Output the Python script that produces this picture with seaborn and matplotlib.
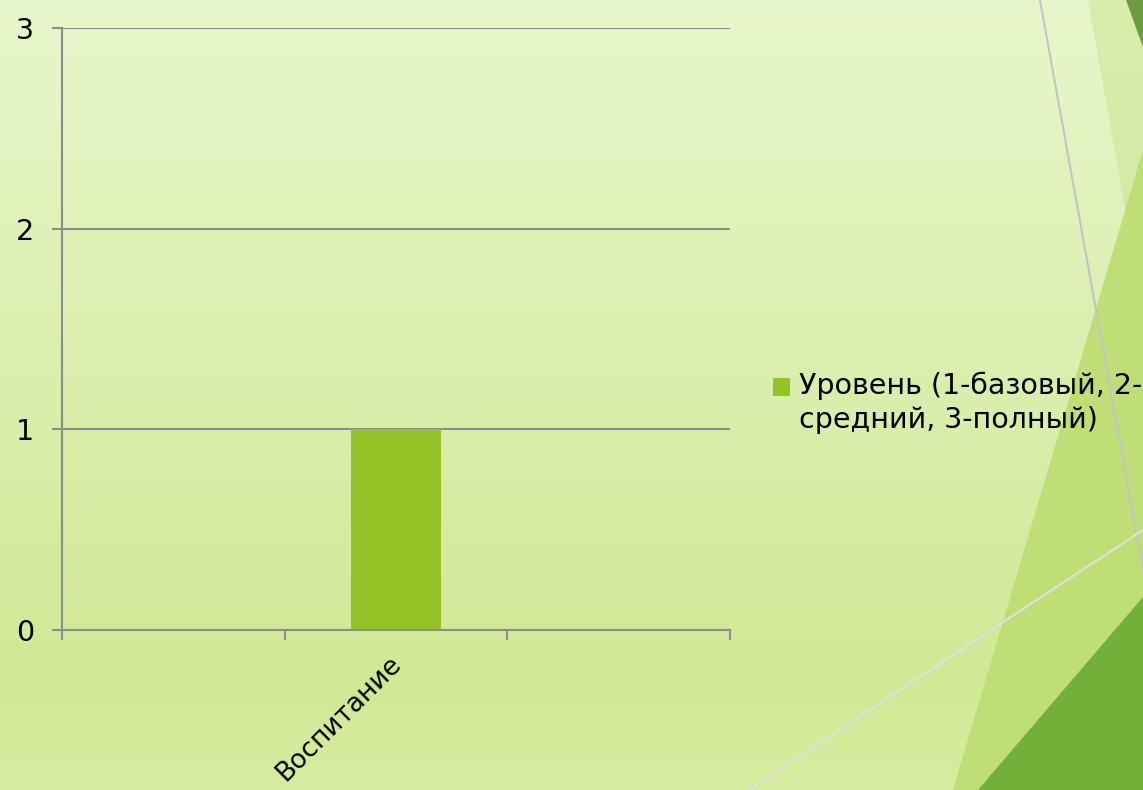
import numpy as np
import pandas as pd
import matplotlib.pyplot as plt
import matplotlib.ticker as mticker
from matplotlib.patches import Polygon
from matplotlib.lines import Line2D
from matplotlib.transforms import ScaledTranslation
import seaborn as sns

# data
categories = ["Воспитание"]
values = [1]
series_name = "Уровень (1-базовый, 2-\nсредний, 3-полный)"
y_ticks = [0, 1, 2, 3]

W, H = 1143, 790
bar_color = "#93c327"
grid_color = "#8c8c8c"
fs = 20.5

sns.set_theme(style="white")
plt.rcParams["font.family"] = ["DejaVu Sans"]
plt.rcParams["text.color"] = "black"

fig = plt.figure(figsize=(W / 100, H / 100), dpi=100)

# background: vertical gradient plus the decorative shapes on the right
bg = fig.add_axes([0, 0, 1, 1], zorder=0)
bg.set_xlim(0, W)
bg.set_ylim(H, 0)
bg.axis("off")
stops_y = [0, 680, H]
stops_c = np.array([[0xe8, 0xf6, 0xcb], [0xd0, 0xe9, 0x95], [0xd6, 0xed, 0xa0]]) / 255
yy = np.arange(H)
grad = np.stack([np.interp(yy, stops_y, stops_c[:, k]) for k in range(3)], axis=1)
bg.imshow(grad[:, None, :], extent=[0, W, H, 0], aspect="auto")
bg.add_patch(Polygon([(1088, 0), (1143, 0), (1143, 309)], closed=True,
                     facecolor="#c6e28a", alpha=0.45, lw=0))
bg.add_patch(Polygon([(953, 790), (1143, 150), (1143, 790)], closed=True,
                     facecolor="#bfde76", lw=0))
bg.add_patch(Polygon([(978, 790), (1143, 597), (1143, 790)], closed=True,
                     facecolor="#72b03a", lw=0))
bg.add_patch(Polygon([(1126, 0), (1143, 0), (1143, 47)], closed=True,
                     facecolor="#6b9a40", lw=0))
bg.add_line(Line2D([1040, 1143], [0, 570], color="#c4c4c4", lw=1.5))
bg.add_line(Line2D([748, 1143], [790, 530], color="#e0e0e0", lw=1.5))

# main chart
ax = fig.add_axes([62 / W, 1 - 630 / H, (730 - 62) / W, (630 - 28) / H], zorder=1)
ax.set_facecolor("none")
df = pd.DataFrame({"category": categories, "value": values})
sns.barplot(data=df, x="category", y="value", color=bar_color, width=0.4,
            saturation=1, linewidth=0, ax=ax, label=series_name, zorder=2)

ax.set_xlim(-1.5, 1.5)
ax.set_ylim(0, 3)
ax.set_yticks(y_ticks)
ax.xaxis.set_minor_locator(mticker.FixedLocator([-1.5, -0.5, 0.5, 1.5]))
ax.set_xlabel("")
ax.set_ylabel("")
ax.yaxis.grid(True, color=grid_color, lw=1.5)
ax.set_axisbelow(True)

for side in ["top", "right"]:
    ax.spines[side].set_visible(False)
for side in ["left", "bottom"]:
    ax.spines[side].set_color(grid_color)
    ax.spines[side].set_linewidth(1.5)

ax.tick_params(axis="y", left=True, length=7, width=1.5, color=grid_color,
               pad=13, labelsize=fs, labelcolor="black")
ax.tick_params(axis="x", which="major", bottom=False, labelsize=19,
               labelcolor="black", pad=9)
ax.tick_params(axis="x", which="minor", bottom=True, length=7, width=1.5,
               color=grid_color)
shift = ScaledTranslation(-8 / 100, 0, fig.dpi_scale_trans)
for lbl in ax.get_xticklabels():
    lbl.set_rotation(45)
    lbl.set_ha("right")
    lbl.set_rotation_mode("anchor")
    lbl.set_transform(lbl.get_transform() + shift)

leg = ax.legend(loc="upper left", bbox_to_anchor=(773 / W, 1 - 372 / H),
                bbox_transform=fig.transFigure, frameon=False, fontsize=fs,
                borderpad=0, borderaxespad=0, handlelength=0.6,
                handleheight=0.6, handletextpad=0.3)
leg.get_texts()[0].set_linespacing(1.25)
# put the square next to the first line of the label
for col in leg._legend_handle_box.get_children():
    for row in col.get_children():
        row.align = "top"
sq = leg.legend_handles[0]
sq.set_y(sq.get_y() - 4)

fig.savefig("out.png", dpi=100)
